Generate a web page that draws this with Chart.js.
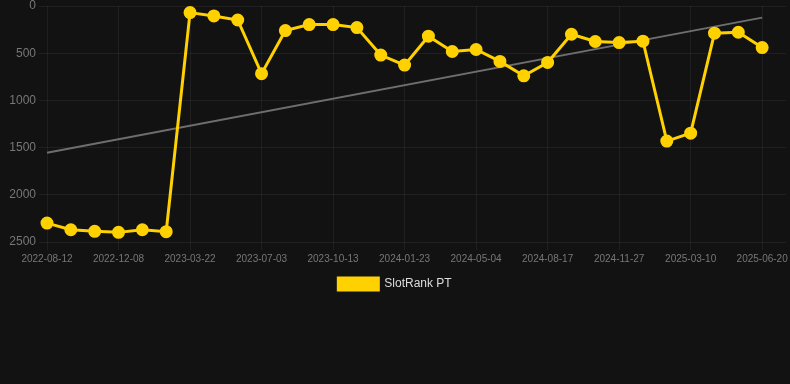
<!DOCTYPE html>
<html>
<head>
<meta charset="utf-8">
<script src="https://cdn.jsdelivr.net/npm/chart.js@4/dist/chart.umd.min.js"></script>
<style>
  html, body { margin: 0; padding: 0; background: #121212; }
  #wrap { position: relative; width: 790px; height: 300px; }
</style>
</head>
<body>
<div id="wrap"><canvas id="c"></canvas></div>
<script>
const dates = [
  "2022-08-12","2022-09-20","2022-10-29","2022-12-08","2023-01-12","2023-02-16",
  "2023-03-22","2023-04-25","2023-05-29","2023-07-03","2023-08-06","2023-09-09",
  "2023-10-13","2023-11-16","2023-12-20","2024-01-23","2024-02-26","2024-03-31",
  "2024-05-04","2024-06-08","2024-07-13","2024-08-17","2024-09-20","2024-10-24",
  "2024-11-27","2024-12-31","2025-02-04","2025-03-10","2025-04-13","2025-05-17",
  "2025-06-20","2025-07-24"
];
const rankPT = [
  2300, 2370, 2387, 2398, 2370, 2391,
  70, 105, 148, 717, 260, 197,
  197, 229, 520, 626, 320, 482,
  461, 587, 740, 598, 299, 376,
  387, 373, 1431, 1347, 288, 278,
  440, null
];
const trendStart = 1555;
const trendEnd = 123;
const yTicks = [0, 500, 1000, 1500, 2000, 2500];

const trend = dates.map(() => null);
trend[0] = trendStart;
trend[30] = trendEnd;

const shown = (i) => i % 3 === 0 && i <= 30;

new Chart(document.getElementById('c'), {
  type: 'line',
  data: {
    labels: dates,
    datasets: [
      {
        label: 'SlotRank PT',
        data: rankPT,
        borderColor: '#FFD100',
        backgroundColor: '#FFD100',
        borderWidth: 3,
        pointRadius: 5,
        pointHoverRadius: 5,
        pointBackgroundColor: '#FFD100',
        pointBorderColor: '#FFD100',
        tension: 0,
        clip: 10
      },
      {
        label: 'trend',
        data: trend,
        borderColor: '#6e6e6e',
        borderWidth: 2,
        pointRadius: 0,
        spanGaps: true,
        tension: 0
      }
    ]
  },
  options: {
    responsive: true,
    maintainAspectRatio: false,
    animation: false,
    layout: { padding: 0, autoPadding: false },
    plugins: {
      legend: {
        position: 'bottom',
        labels: {
          color: '#dddddd',
          font: { family: 'Liberation Sans, Arial, sans-serif', size: 12 },
          boxWidth: 40,
          boxHeight: 12,
          filter: (item) => item.text !== 'trend'
        }
      },
      tooltip: { enabled: false }
    },
    scales: {
      x: {
        grid: {
          color: (ctx) => shown(ctx.index) ? 'rgba(255,255,255,0.06)' : 'rgba(0,0,0,0)',
          tickLength: 8
        },
        border: { display: false },
        afterFit: (s) => { s.paddingLeft = 0; s.paddingRight = 4; },
        ticks: {
          autoSkip: false,
          maxRotation: 0,
          color: '#777777',
          font: { family: 'Liberation Sans, Arial, sans-serif', size: 10 },
          callback: function(v, i) { return shown(i) ? dates[i] : ''; }
        }
      },
      y: {
        reverse: true,
        min: 0,
        max: 2500,
        grid: { color: 'rgba(255,255,255,0.06)', tickLength: 8 },
        border: { display: false },
        afterBuildTicks: (s) => { s.ticks = yTicks.map(v => ({ value: v })); },
        afterFit: (s) => { s.width = 47; s.paddingTop = 6; s.paddingBottom = 0; },
        ticks: {
          color: '#777777',
          font: { family: 'Liberation Sans, Arial, sans-serif', size: 12 },
          callback: (v) => String(v)
        }
      }
    }
  }
});
</script>
</body>
</html>
